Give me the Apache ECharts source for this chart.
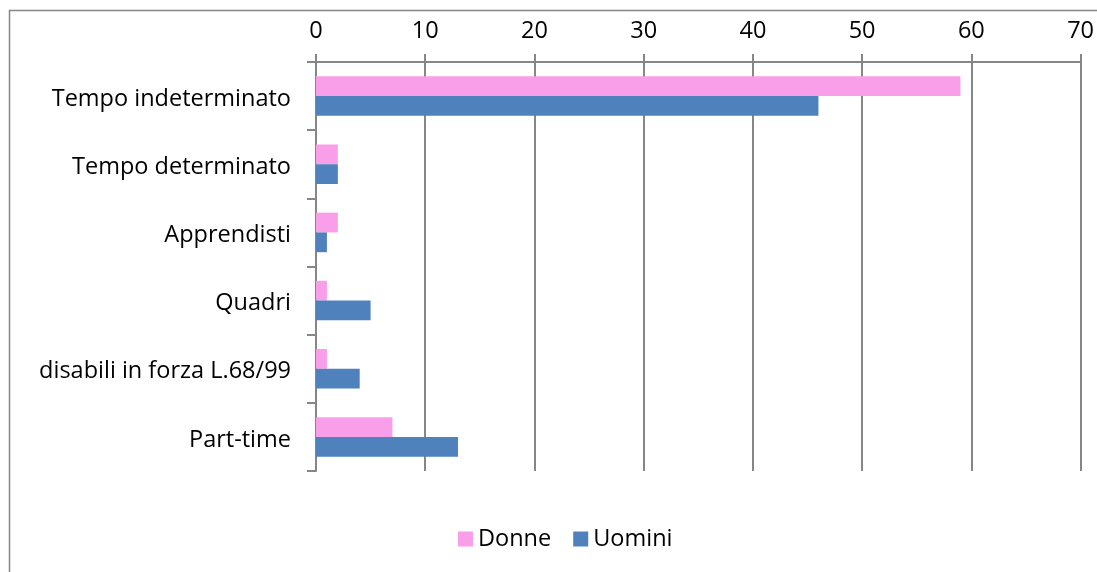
<!DOCTYPE html>
<html><head><meta charset="utf-8">
<script src="https://cdn.jsdelivr.net/npm/echarts@6/dist/echarts.min.js"></script>
<style>html,body{margin:0;padding:0;background:#fff}#c{width:1097px;height:572px}</style>
</head><body><div id="c"></div>
<script>
const categories = ["Tempo indeterminato","Tempo determinato","Apprendisti","Quadri","disabili in forza L.68/99","Part-time"];
const donne = [59, 2, 2, 1, 1, 7];
const uomini = [46, 2, 1, 5, 4, 13];
const xTicks = {min: 0, max: 70, interval: 10};

const chart = echarts.init(document.getElementById('c'));
const font = "'Open Sans', 'Liberation Sans', sans-serif";
chart.setOption({
  animation: false,
  backgroundColor: '#fff',
  graphic: [{type:'rect', shape:{x:9.5,y:10.5,width:1200,height:700}, style:{fill:'none', stroke:'#868686', lineWidth:1.5}, silent:true}],
  grid: {left: 316, right: 16, top: 62, bottom: 101},
  legend: {
    bottom: 16, left: 453, itemWidth: 15, itemHeight: 15, itemGap: 22,
    icon: 'rect',
    textStyle: {fontFamily: font, fontSize: 23.5, color: '#000'},
    data: ['Donne','Uomini']
  },
  xAxis: {
    type: 'value', position: 'top', min: xTicks.min, max: xTicks.max, interval: xTicks.interval,
    axisLine: {show: true, lineStyle: {color: '#868686', width: 2}},
    axisTick: {show: true, length: 8, lineStyle: {color: '#868686', width: 2}},
    splitLine: {show: true, lineStyle: {color: '#868686', width: 2}},
    axisLabel: {fontFamily: font, fontSize: 23.5, color: '#000', margin: 19}
  },
  yAxis: {
    type: 'category', inverse: true, data: categories,
    axisLine: {show: true, lineStyle: {color: '#868686', width: 2}},
    axisTick: {show: true, length: 9, lineStyle: {color: '#868686', width: 2}},
    axisLabel: {
      margin: 25,
      formatter: v => '{a|' + v + '}',
      rich: {a: {fontFamily: font, fontSize: 23.5, color: '#000', padding: [6, 0, 0, 0]}}
    }
  },
  series: [
    {name: 'Donne', type: 'bar', data: donne, barCategoryGap: '42%', barGap: '0%',
     itemStyle: {color: '#F99FEA'}},
    {name: 'Uomini', type: 'bar', data: uomini, barCategoryGap: '42%', barGap: '0%',
     itemStyle: {color: '#4F81BD'}}
  ]
});
</script></body></html>
